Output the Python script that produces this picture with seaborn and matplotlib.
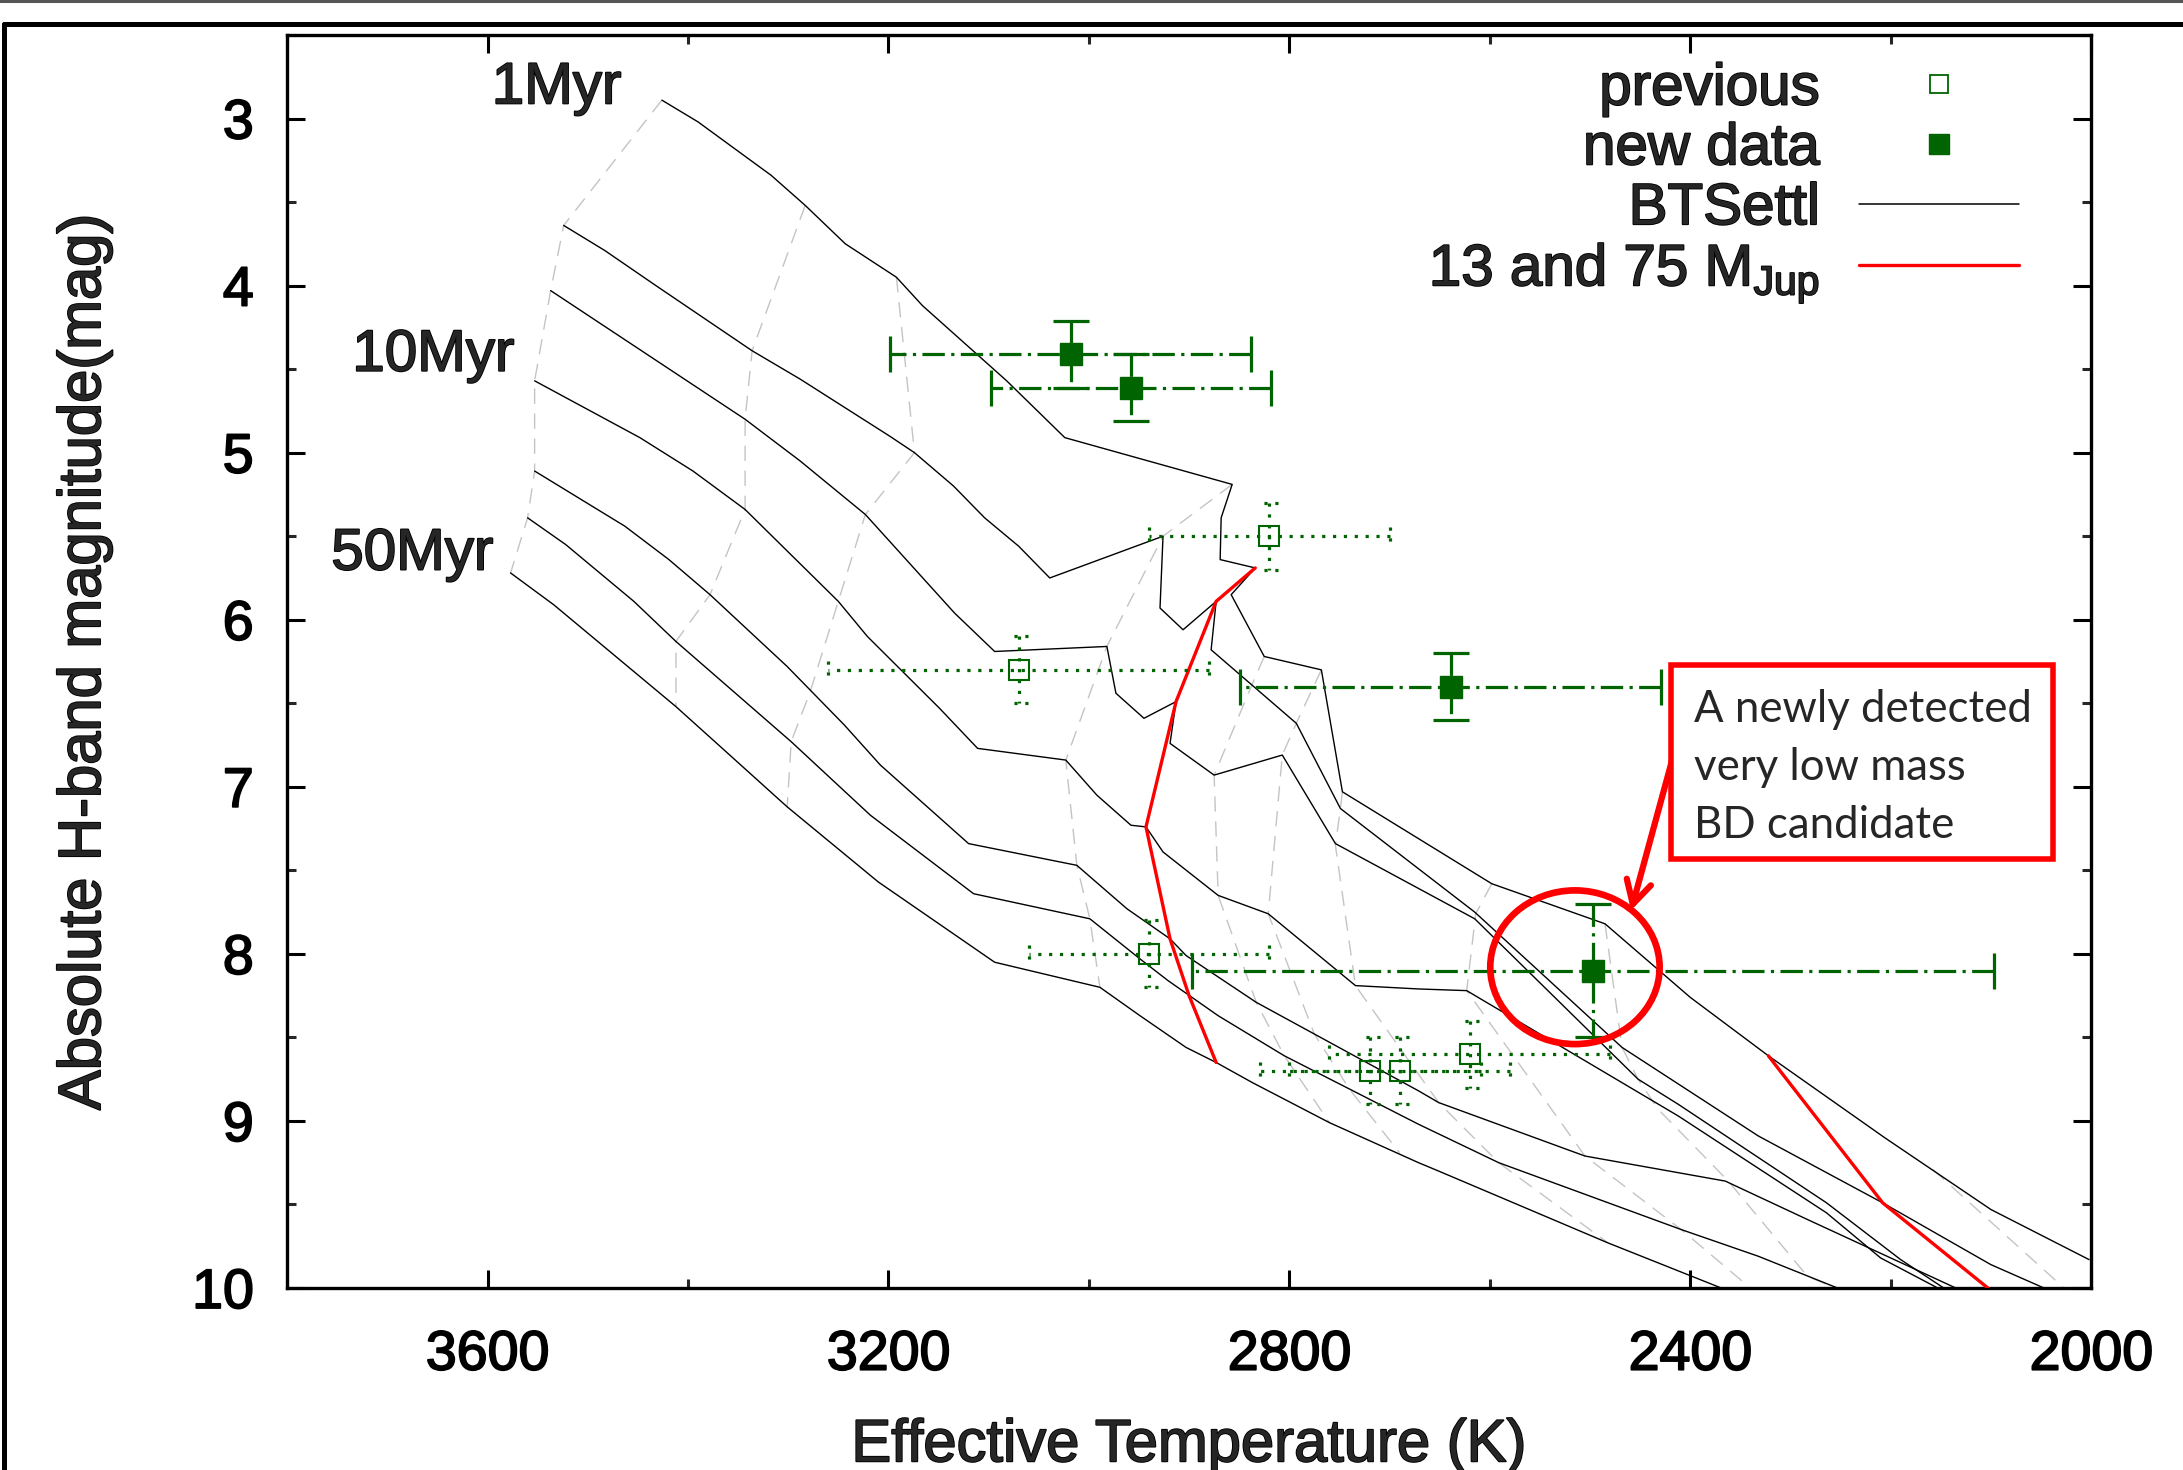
import numpy as np
import pandas as pd
import matplotlib
matplotlib.use("Agg")
import matplotlib.pyplot as plt
import matplotlib.patheffects as pe
import seaborn as sns
from matplotlib.lines import Line2D
from matplotlib.patches import Ellipse, Rectangle
from matplotlib.ticker import MultipleLocator

# ---------------- data (Teff [K], absolute H magnitude) ----------------
# BT-Settl isochrones (1 Myr ... 50 Myr)
ISO1_T = [3426, 3390, 3317, 3283, 3243, 3192, 3166, 3082, 3024, 2857, 2868, 2869, 2834, 2858, 2825, 2768, 2747, 2598, 2485, 2400, 2322, 2206, 2100, 2002]
ISO1_M = [2.89, 3.02, 3.34, 3.52, 3.75, 3.95, 4.12, 4.57, 4.91, 5.19, 5.39, 5.64, 5.69, 5.85, 6.22, 6.30, 7.03, 7.58, 7.82, 8.26, 8.61, 9.10, 9.53, 9.83]
ISO2_T = [3524, 3483, 3432, 3336, 3288, 3199, 3174, 3135, 3104, 3070, 3039, 2926, 2929, 2906, 2873, 2878, 2793, 2749, 2615, 2468, 2332, 2208, 2100, 2047]
ISO2_M = [3.64, 3.79, 4.00, 4.39, 4.56, 4.90, 5.00, 5.20, 5.39, 5.56, 5.75, 5.50, 5.93, 6.06, 5.89, 6.18, 6.62, 7.13, 7.75, 8.56, 9.09, 9.49, 9.86, 10.0]
ISO3_T = [3537, 3343, 3288, 3223, 3134, 3094, 2982, 2973, 2945, 2913, 2919, 2875, 2807, 2754, 2615, 2452, 2412, 2264, 2190, 2147]
ISO3_M = [4.03, 4.80, 5.05, 5.37, 5.96, 6.19, 6.16, 6.44, 6.59, 6.49, 6.74, 6.93, 6.81, 7.34, 7.79, 8.75, 8.90, 9.49, 9.83, 10.0]
ISO4_T = [3553, 3448, 3395, 3343, 3250, 3221, 3149, 3111, 3023, 2992, 2958, 2943, 2926, 2871, 2821, 2734, 2671, 2623, 2412, 2264, 2210, 2153]
ISO4_M = [4.57, 4.91, 5.11, 5.34, 5.89, 6.10, 6.53, 6.77, 6.84, 7.05, 7.23, 7.24, 7.39, 7.65, 7.76, 8.19, 8.21, 8.22, 8.97, 9.55, 9.82, 10.0]
ISO5_T = [3553, 3463, 3419, 3378, 3301, 3244, 3208, 3120, 3012, 2962, 2919, 2903, 2833, 2671, 2651, 2505, 2365, 2283, 2135]
ISO5_M = [5.11, 5.44, 5.64, 5.85, 6.28, 6.63, 6.87, 7.34, 7.47, 7.73, 7.91, 8.01, 8.29, 8.82, 8.89, 9.21, 9.36, 9.59, 10.0]
ISO6_T = [3560, 3522, 3454, 3412, 3297, 3218, 3115, 2999, 2949, 2921, 2871, 2805, 2671, 2591, 2409, 2332, 2253]
ISO6_M = [5.39, 5.55, 5.89, 6.13, 6.73, 7.17, 7.64, 7.79, 8.03, 8.16, 8.37, 8.61, 9.02, 9.25, 9.65, 9.81, 10.0]
ISO7_T = [3577, 3534, 3496, 3412, 3362, 3301, 3210, 3094, 2989, 2949, 2903, 2873, 2837, 2760, 2671, 2651, 2482, 2369]
ISO7_M = [5.72, 5.91, 6.10, 6.52, 6.79, 7.12, 7.57, 8.05, 8.20, 8.37, 8.56, 8.65, 8.77, 9.01, 9.25, 9.30, 9.73, 10.0]

# equal-mass tracks (grey dashed)
TR1_T = [3426, 3524, 3537, 3553, 3553, 3560, 3577]
TR1_M = [2.89, 3.64, 4.03, 4.57, 5.11, 5.39, 5.72]
TR2_T = [3283, 3336, 3343, 3343, 3378, 3412, 3412]
TR2_M = [3.52, 4.39, 4.80, 5.34, 5.85, 6.13, 6.52]
TR3_T = [3192, 3174, 3223, 3250, 3278, 3297, 3301]
TR3_M = [3.95, 5.00, 5.37, 5.89, 6.43, 6.73, 7.12]
TR4_T = [2857, 2926, 2982, 3023, 3012, 2999, 2989]
TR4_M = [5.19, 5.50, 6.16, 6.84, 7.47, 7.79, 8.20]
TR5_T = [2825, 2838, 2875, 2871, 2833, 2805, 2760]
TR5_M = [6.22, 6.40, 6.93, 7.65, 8.29, 8.61, 9.01]
TR6_T = [2768, 2793, 2807, 2821, 2775, 2740, 2690]
TR6_M = [6.30, 6.62, 6.81, 7.76, 8.48, 8.81, 9.19]
TR7_T = [2747, 2749, 2754, 2734, 2651, 2591, 2482]
TR7_M = [7.03, 7.13, 7.35, 8.19, 8.89, 9.25, 9.73]
TR8_T = [2598, 2614, 2623, 2505, 2409, 2340]
TR8_M = [7.58, 7.76, 8.22, 9.21, 9.65, 10.0]
TR9_T = [2485, 2468, 2452, 2432, 2362, 2283, 2255]
TR9_M = [7.82, 8.56, 8.75, 8.93, 9.36, 9.93, 10.0]
TR10_T = [2158, 2027]
TR10_M = [9.29, 10.0]

# 75 and 13 M_Jup tracks (red)
RED75_T = [2834, 2873, 2913, 2943, 2919, 2900, 2873]
RED75_M = [5.69, 5.89, 6.49, 7.24, 7.91, 8.25, 8.65]
RED13_T = [2322, 2208, 2103]
RED13_M = [8.61, 9.49, 10.0]

# previous objects
PREV_T = [2820, 3070, 2940, 2719, 2690, 2620]
PREV_M = [5.50, 6.30, 8.00, 8.70, 8.70, 8.60]
PREV_TERR = [120, 190, 120, 110, 110, 140]
PREV_MERR = [0.2, 0.2, 0.2, 0.2, 0.2, 0.2]

# new data
NEW_T = [3018, 2958, 2639, 2497]
NEW_M = [4.41, 4.61, 6.40, 8.10]
NEW_TERR = [180, 140, 210, 400]
NEW_MERR = [0.2, 0.2, 0.2, 0.4]

AGE_LABELS = ["1Myr", "10Myr", "50Myr"]
LEGEND_LABELS = ["previous", "new data", "BTSettl", r"13 and 75 M$_{\mathrm{Jup}}$"]
XTICKS = [3600, 3200, 2800, 2400, 2000]
YTICKS = [3, 4, 5, 6, 7, 8, 9, 10]

# ---------------- style ----------------
sns.set_theme(style="white")
plt.rcParams["font.family"] = ["Liberation Sans", "DejaVu Sans"]
plt.rcParams["mathtext.fontset"] = "custom"
plt.rcParams["mathtext.rm"] = "Liberation Sans"
plt.rcParams["mathtext.it"] = "Liberation Sans:italic"
plt.rcParams["mathtext.bf"] = "Liberation Sans:bold"

GREEN = "#006400"
GREY = "#c4c4c4"
HEAVY = [pe.withStroke(linewidth=1.3, foreground="black")]

fig = plt.figure(figsize=(21.83, 14.70), dpi=100)
ax = fig.add_axes([0.1315, 0.1238, 0.8264, 0.8524])


def frame(ts, ms, key):
    return pd.concat(
        [pd.DataFrame({"T": t, "M": m, key: i}) for i, (t, m) in enumerate(zip(ts, ms))],
        ignore_index=True,
    )


iso_df = frame([ISO1_T, ISO2_T, ISO3_T, ISO4_T, ISO5_T, ISO6_T, ISO7_T],
               [ISO1_M, ISO2_M, ISO3_M, ISO4_M, ISO5_M, ISO6_M, ISO7_M], "iso")
trk_df = frame([TR1_T, TR2_T, TR3_T, TR4_T, TR5_T, TR6_T, TR7_T, TR8_T, TR9_T, TR10_T],
               [TR1_M, TR2_M, TR3_M, TR4_M, TR5_M, TR6_M, TR7_M, TR8_M, TR9_M, TR10_M], "trk")
red_df = frame([RED75_T, RED13_T], [RED75_M, RED13_M], "red")

# grey dashed equal-mass tracks
n0 = len(ax.lines)
sns.lineplot(data=trk_df, x="T", y="M", units="trk", estimator=None, sort=False,
             color=GREY, lw=1.0, ax=ax, legend=False, zorder=1)
for ln in ax.lines[n0:]:
    ln.set_linestyle((0, (11, 7)))

# isochrones
sns.lineplot(data=iso_df, x="T", y="M", units="iso", estimator=None, sort=False,
             color="black", lw=1.0, ax=ax, legend=False, zorder=2)

# red mass tracks
sns.lineplot(data=red_df, x="T", y="M", units="red", estimator=None, sort=False,
             color="#ff0000", lw=2.4, ax=ax, legend=False, zorder=3)

# previous objects: dotted error bars, open squares
eb = ax.errorbar(PREV_T, PREV_M, xerr=PREV_TERR, yerr=PREV_MERR, fmt="s", ms=15,
                 mfc="none", mec=GREEN, mew=1.5, ecolor=GREEN, elinewidth=2.3,
                 capsize=0, zorder=5)
for lc in eb[2]:
    lc.set_linestyle((0, (1, 2.4)))
pt = np.array(PREV_T, float); pm = np.array(PREV_M, float)
pdt = np.array(PREV_TERR, float); pdm = np.array(PREV_MERR, float)
ax.vlines(np.r_[pt - pdt, pt + pdt], np.r_[pm, pm] - 0.055, np.r_[pm, pm] + 0.055,
          colors=GREEN, lw=2.3, linestyles=[(0, (1, 2.4))], zorder=5)
ax.hlines(np.r_[pm - pdm, pm + pdm], np.r_[pt, pt] - 9, np.r_[pt, pt] + 9,
          colors=GREEN, lw=2.3, linestyles=[(0, (1, 2.4))], zorder=5)

# new data: dash-dot error bars, filled squares
eb2 = ax.errorbar(NEW_T, NEW_M, xerr=NEW_TERR, yerr=NEW_MERR, fmt="s", ms=16.5,
                  mfc=GREEN, mec=GREEN, ecolor=GREEN, elinewidth=2.3,
                  capsize=13, capthick=2.3, zorder=6)
for lc in eb2[2]:
    lc.set_linestyle((0, (7, 2, 1, 2)))

# axes setup
ax.set_xlim(3800, 2000)
ax.set_ylim(10, 2.5)
ax.xaxis.set_major_locator(MultipleLocator(400))
ax.xaxis.set_minor_locator(MultipleLocator(200))
ax.set_xticks(XTICKS)
ax.set_yticks(YTICKS)
ax.yaxis.set_minor_locator(MultipleLocator(0.5))
ax.tick_params(which="major", direction="in", length=13, width=2.2,
               top=True, right=True, bottom=True, left=True, labelsize=40, colors="black")
ax.tick_params(which="minor", direction="in", length=6.5, width=2.2,
               top=True, right=True, bottom=True, left=True)
ax.tick_params(axis="x", which="major", pad=30)
ax.tick_params(axis="y", which="major", pad=24)
for sp in ax.spines.values():
    sp.set_linewidth(2.4)
    sp.set_color("black")

ax.set_xlabel("Effective Temperature (K)", fontsize=43)
ax.set_ylabel("Absolute H-band magnitude(mag)", fontsize=43)
ax.xaxis.set_label_coords(0.5, -0.104)
ax.yaxis.set_label_coords(-0.097, 0.5)
ax.xaxis.label.set_path_effects(HEAVY)
ax.yaxis.label.set_path_effects(HEAVY)
for lab in ax.get_xticklabels() + ax.get_yticklabels():
    lab.set_path_effects(HEAVY)

# age labels
for lab, (tx, my) in zip(AGE_LABELS, [(3531, 2.82), (3654, 4.42), (3675, 5.61)]):
    ax.text(tx, my, lab, fontsize=42, ha="center", va="center", zorder=8,
            path_effects=HEAVY)

# circle, arrow and annotation box
ax.add_patch(Ellipse((2515, 8.08), width=169, height=0.92, fill=False,
                     ec="#ff0000", lw=4.8, zorder=10))
ax.annotate("", xy=(2459, 7.74), xytext=(2418, 6.84),
            arrowprops=dict(arrowstyle="->,head_length=0.55,head_width=0.3",
                            color="#ff0000", lw=4.5, shrinkA=0, shrinkB=0,
                            mutation_scale=30), zorder=10)
ax.add_patch(Rectangle((2038, 6.27), 381, 1.16, fill=True, fc="white",
                       ec="#ff0000", lw=4, zorder=10))
ax.text(2396, 6.885, "A newly detected\nvery low mass\nBD candidate", family=["Lato", "DejaVu Sans"],
        fontsize=31.5, ha="left", va="center", linespacing=1.51, zorder=11)

# legend
handles = [
    Line2D([], [], marker="s", ls="none", mfc="none", mec=GREEN, ms=13.5, mew=1.3),
    Line2D([], [], marker="s", ls="none", mfc=GREEN, mec=GREEN, ms=14.5),
    Line2D([], [], color="black", lw=1.1),
    Line2D([], [], color="#ff0000", lw=2.4),
]
leg = ax.legend(handles, LEGEND_LABELS, loc="upper right", bbox_to_anchor=(0.960, 0.978),
                frameon=False, fontsize=42, markerfirst=False, handlelength=2.74,
                handletextpad=0.67, labelspacing=0.1, borderpad=0, borderaxespad=0,
                numpoints=1)
for t in leg.get_texts():
    t.set_path_effects(HEAVY)

# outer page frame
fig.add_artist(Line2D([0.00206, 0.00206], [0, 0.984], transform=fig.transFigure,
                      color="black", lw=3.6))
fig.add_artist(Line2D([0.00206, 1.0], [0.984, 0.984], transform=fig.transFigure,
                      color="black", lw=3.6))
fig.add_artist(Line2D([0.0, 1.0], [0.9993, 0.9993], transform=fig.transFigure,
                      color="#555555", lw=2.2))

fig.savefig("out.png", dpi=100)
